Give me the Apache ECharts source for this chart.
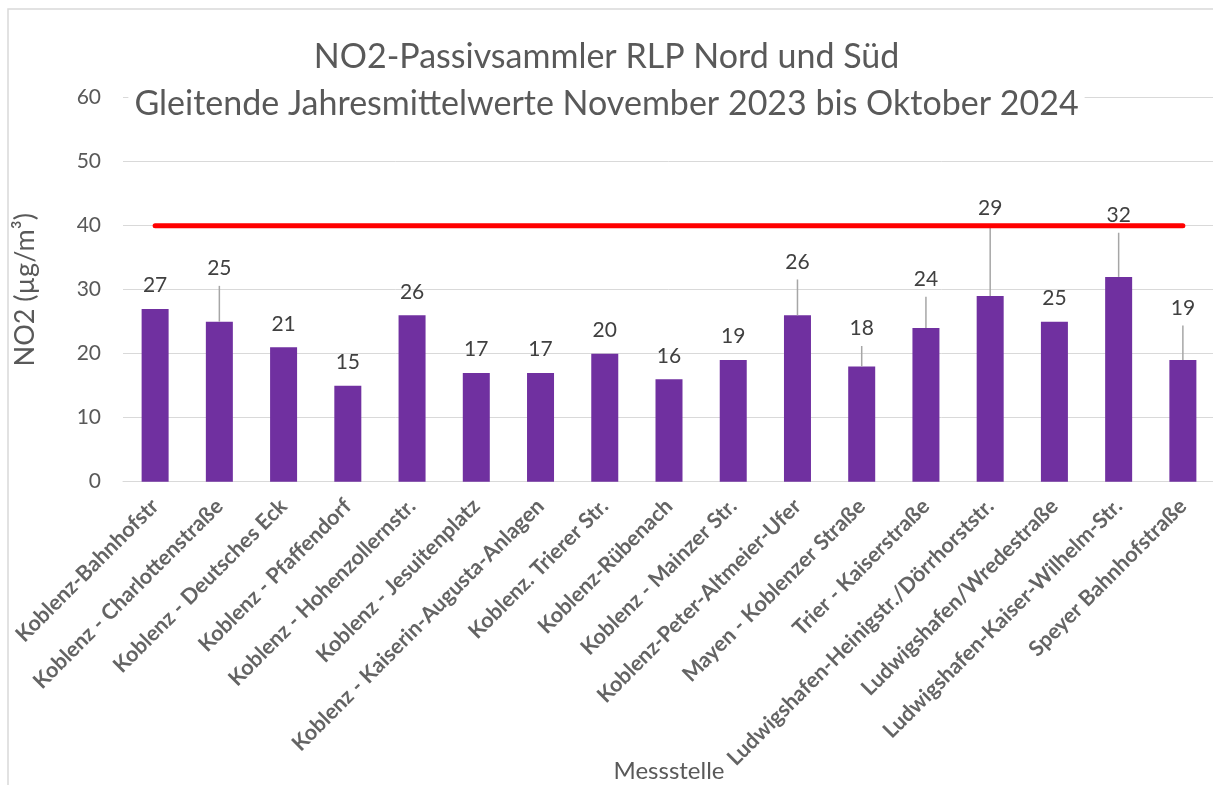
<!DOCTYPE html>
<html>
<head>
<meta charset="utf-8">
<script src="https://cdn.jsdelivr.net/npm/echarts@6/dist/echarts.min.js"></script>
<style>
  html, body { margin: 0; padding: 0; background: #fff; }
  #chart { width: 1213px; height: 785px; }
</style>
</head>
<body>
<div id="chart"></div>
<script>
// Messstellen (Kategorien)
var stations = [
    'Koblenz-Bahnhofstr',
    'Koblenz - Charlottenstraße',
    'Koblenz - Deutsches Eck',
    'Koblenz - Pfaffendorf',
    'Koblenz - Hohenzollernstr.',
    'Koblenz - Jesuitenplatz',
    'Koblenz - Kaiserin-Augusta-Anlagen',
    'Koblenz. Trierer Str.',
    'Koblenz-Rübenach',
    'Koblenz - Mainzer Str.',
    'Koblenz-Peter-Altmeier-Ufer',
    'Mayen - Koblenzer Straße',
    'Trier - Kaiserstraße',
    'Ludwigshafen-Heinigstr./Dörrhorststr.',
    'Ludwigshafen/Wredestraße',
    'Ludwigshafen-Kaiser-Wilhelm-Str.',
    'Speyer Bahnhofstraße'
];
// gleitende Jahresmittelwerte NO2
var no2Values = [27, 25, 21, 15, 26, 17, 17, 20, 16, 19, 26, 18, 24, 29, 25, 32, 19];
// obere Fehlerbalken (null = kein Fehlerbalken)
var errorUpper = [null, 30.6, null, null, null, null, null, null, null, null, 31.6, 21.2, 28.9, 40, null, 38.9, 24.4];
// Grenzwert
var limitValue = 40;
var limitLine = stations.map(function () { return limitValue; });
var yTicks = [0, 10, 20, 30, 40, 50, 60];

var FONT = 'Lato';
var TXT = '#595959';

var myChart = echarts.init(document.getElementById('chart'));
var option = {
    backgroundColor: '#fff',
    animation: false,
    textStyle: { fontFamily: FONT },
    title: {
        text: 'NO2-Passivsammler RLP Nord und Süd\nGleitende Jahresmittelwerte November 2023 bis Oktober 2024',
        left: 'center',
        top: 34,
        padding: [0, 6],
        backgroundColor: '#fff',
        textStyle: {
            fontFamily: FONT,
            fontSize: 34,
            fontWeight: 'normal',
            color: TXT,
            lineHeight: 47,
            align: 'center'
        }
    },
    graphic: [
        {
            type: 'rect',
            z: -10,
            shape: { x: 8, y: 9, width: 1240, height: 800 },
            style: { fill: null, stroke: '#D9D9D9', lineWidth: 1.5 }
        },
        {
            // Achsentitel der x-Achse (liegt im Original über den Beschriftungen)
            type: 'text',
            x: 669,
            y: 771,
            z: 10,
            style: {
                text: 'Messstelle',
                fontFamily: FONT,
                fontSize: 24,
                fill: TXT,
                align: 'center',
                verticalAlign: 'middle'
            }
        }
    ],
    grid: {
        left: 123, right: -2, top: 97.7, bottom: 303.3,
        containLabel: false,
        outerBoundsMode: 'none'
    },
    xAxis: {
        type: 'category',
        data: stations,
        axisLine: { lineStyle: { color: '#D9D9D9', width: 1 } },
        axisTick: { show: false },
        axisLabel: {
            interval: 0,
            rotate: 45,
            margin: 21,
            fontFamily: FONT,
            fontWeight: 'bold',
            fontSize: 21.5,
            color: '#646464'
        }
    },
    yAxis: {
        type: 'value',
        min: yTicks[0],
        max: yTicks[yTicks.length - 1],
        interval: 10,
        name: 'NO2 (µg/m³)',
        nameLocation: 'middle',
        nameGap: 84,
        nameTextStyle: { fontFamily: FONT, fontSize: 27, color: TXT },
        axisLine: { show: false },
        axisTick: { show: false },
        splitLine: { lineStyle: { color: '#D9D9D9', width: 1 } },
        axisLabel: { margin: 22, fontFamily: FONT, fontSize: 21, color: TXT }
    },
    series: [
        {
            name: 'NO2',
            type: 'bar',
            data: no2Values,
            barWidth: 27,
            itemStyle: { color: '#7030A0' },
            z: 2
        },
        {
            // Fehlerbalken + Datenbeschriftungen
            name: 'Fehler',
            type: 'custom',
            data: no2Values.map(function (v, i) { return [i, v, errorUpper[i] == null ? v : errorUpper[i]]; }),
            encode: { x: 0, y: [1, 2] },
            z: 3,
            renderItem: function (params, api) {
                var i = api.value(0);
                var v = api.value(1);
                var e = api.value(2);
                var p0 = api.coord([i, v]);
                var p1 = api.coord([i, e]);
                var children = [];
                var hasErr = e > v;
                if (hasErr) {
                    children.push({
                        type: 'line',
                        shape: { x1: p0[0], y1: p0[1], x2: p1[0], y2: p1[1] },
                        style: { stroke: '#A6A6A6', lineWidth: 1.5 }
                    });
                }
                children.push({
                    type: 'text',
                    style: {
                        x: p1[0],
                        y: p1[1] - (hasErr ? 7 : 13),
                        text: String(v),
                        align: 'center',
                        verticalAlign: 'bottom',
                        fontFamily: FONT,
                        fontSize: 21,
                        fill: '#404040'
                    }
                });
                return { type: 'group', children: children };
            }
        },
        {
            name: 'Grenzwert',
            type: 'line',
            data: limitLine,
            symbol: 'none',
            z: 5,
            lineStyle: { color: '#FF0000', width: 5, cap: 'round' }
        }
    ]
};
myChart.setOption(option);
</script>
</body>
</html>
